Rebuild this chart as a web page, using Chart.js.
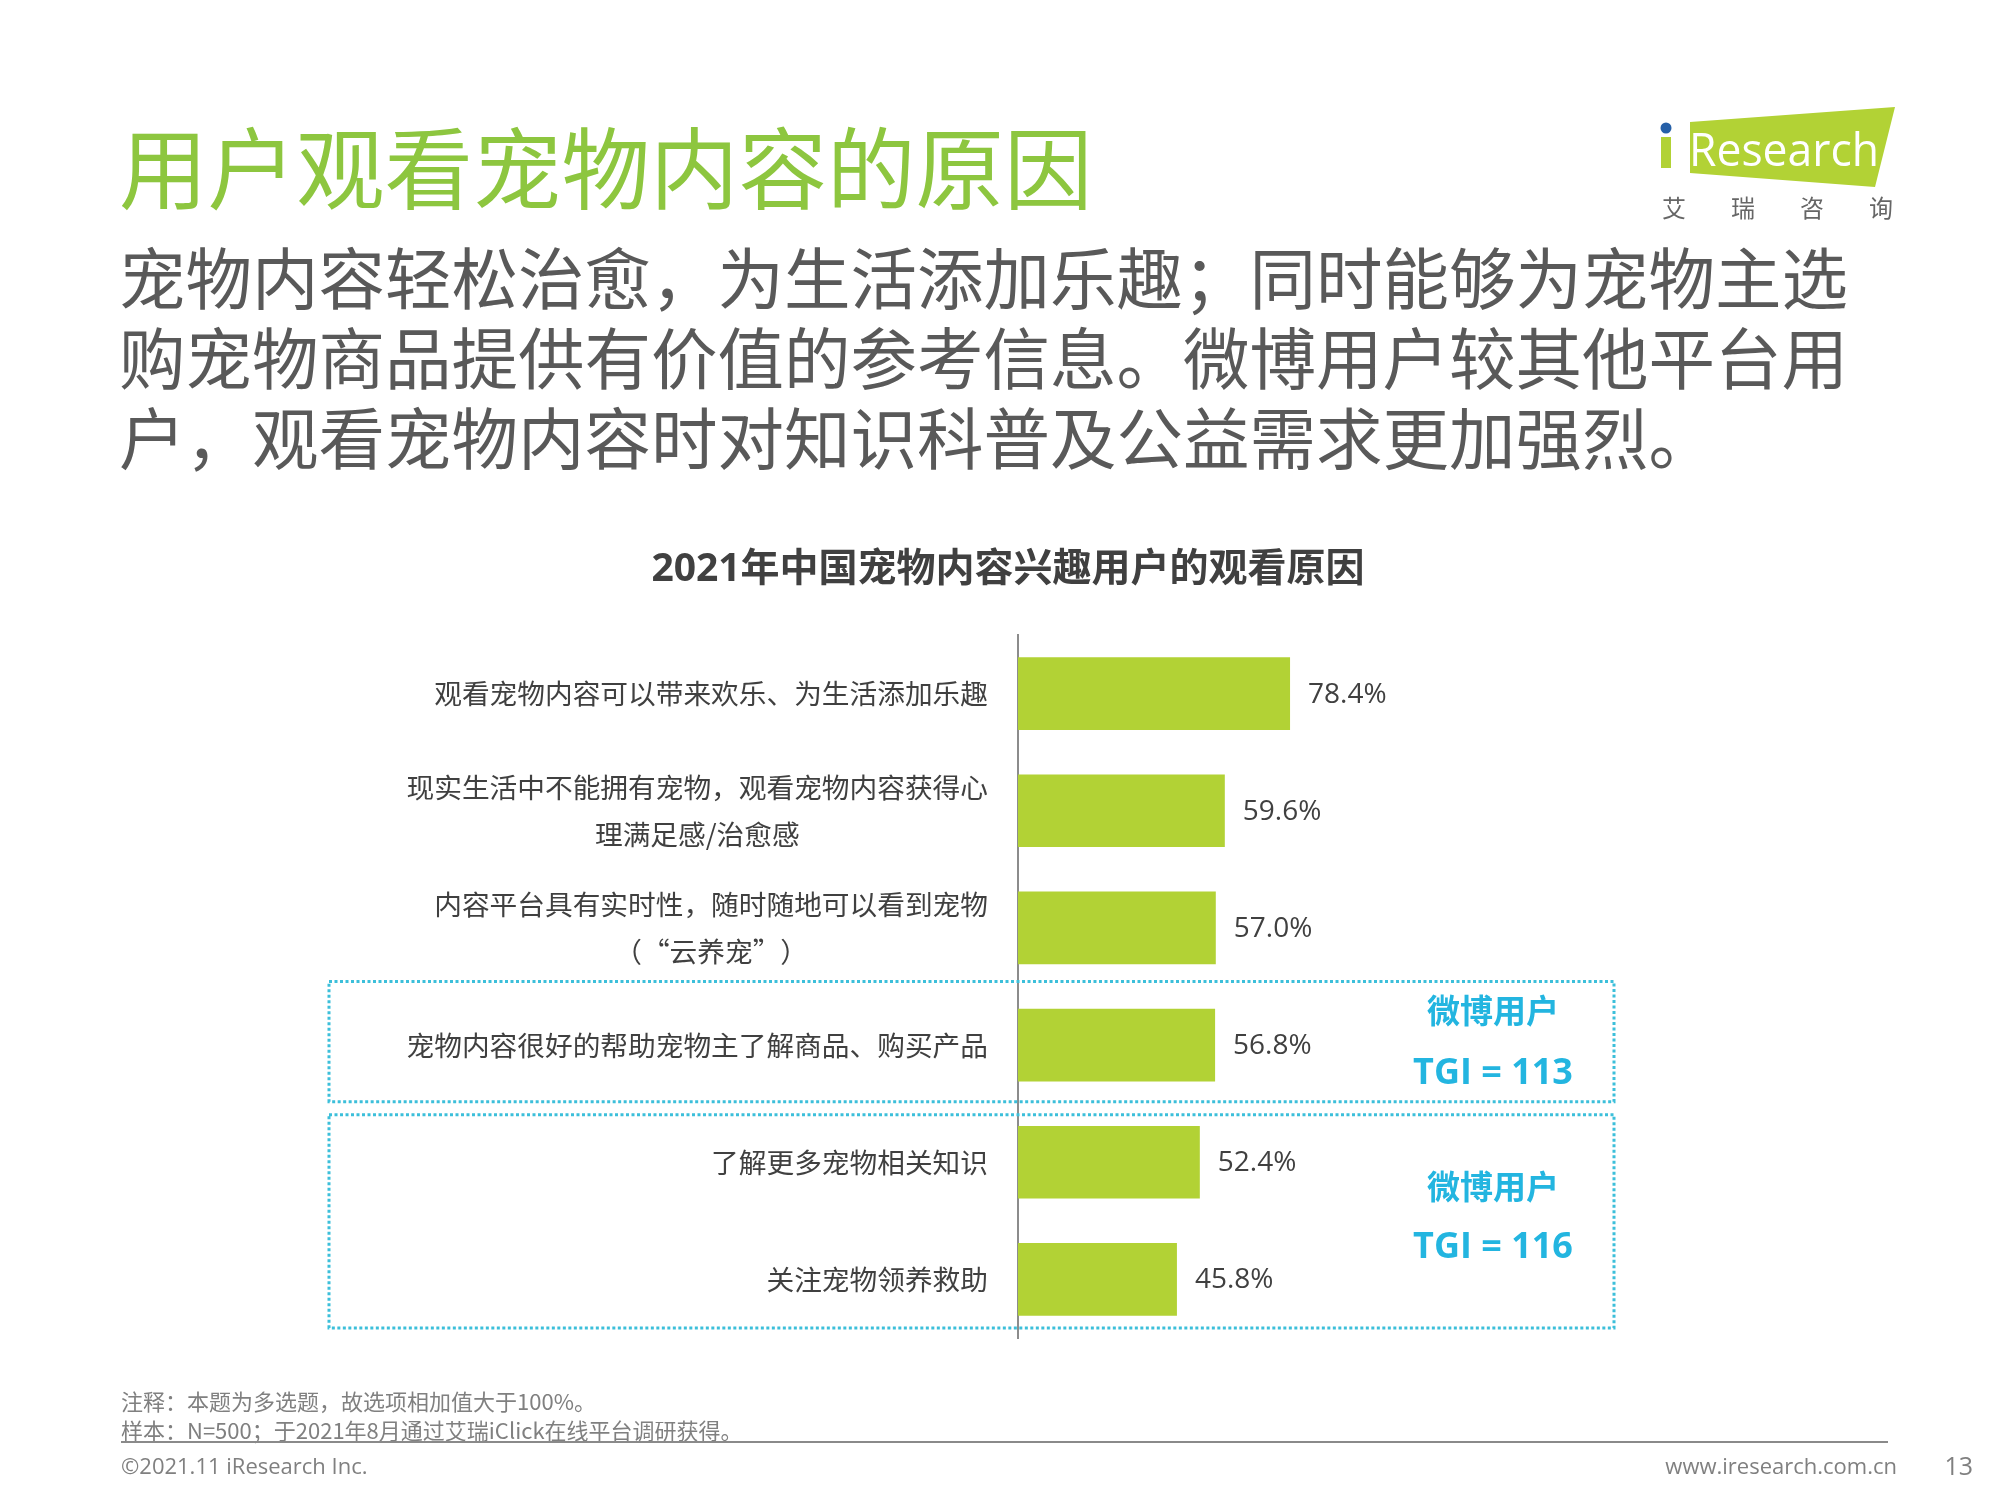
<!DOCTYPE html>
<html lang="zh-CN">
<head>
<meta charset="UTF-8">
<title>用户观看宠物内容的原因</title>
<style>
  body { margin: 0; width: 2000px; height: 1500px; overflow: hidden; background: #fff; font-family: 'Open Sans', 'Noto Sans CJK SC', sans-serif; }
  .abs { position: absolute; white-space: nowrap; }
  #wrap { position: absolute; left: 0; top: 0; width: 2000px; height: 1500px; }
  .title { left: 119px; top: 113px; font-size: 88.5px; line-height: 100px; color: #8DC63F; font-family: 'Noto Sans CJK SC', sans-serif; }
  .sub { left: 119px; top: 235px; font-size: 66.5px; line-height: 80px; color: #595959; font-family: 'Noto Sans CJK SC', sans-serif; }
  .ctitle { left: 508px; top: 541px; width: 1000px; text-align: center; font-size: 39px; line-height: 50px; font-weight: bold; color: #404040; }
  .note { left: 121px; top: 1386px; font-size: 22px; line-height: 29px; color: #808080; font-family: 'Noto Sans CJK SC', sans-serif; }
  .rule { position: absolute; left: 121px; top: 1441px; width: 1767px; height: 2px; background: #8a8a8a; }
  .foot { top: 1450px; font-size: 22px; line-height: 30px; color: #808080; }
</style>
</head>
<body>
  <div id="wrap"><canvas id="chart"></canvas></div>

  <div class="abs title">用户观看宠物内容的原因</div>
  <div class="abs sub">宠物内容轻松治愈，为生活添加乐趣；同时能够为宠物主选<br>购宠物商品提供有价值的参考信息。微博用户较其他平台用<br>户，观看宠物内容时对知识科普及公益需求更加强烈。</div>

  <!-- logo -->
  <svg class="abs" style="left:0;top:0" width="2000" height="240">
    <polygon points="1690,122 1895,107 1875,187 1690,173" fill="#B2D235"/>
    <rect x="1661" y="137" width="10" height="31" fill="#B2D235"/>
    <circle cx="1666" cy="128" r="5.5" fill="#2660A8"/>
    <text x="1689" y="166" font-family="Open Sans" font-size="46" fill="#fff" textLength="190" lengthAdjust="spacingAndGlyphs">Research</text>
    <g font-family="Noto Sans CJK SC" font-size="24" fill="#666">
      <text x="1662" y="217">艾</text><text x="1731" y="217">瑞</text><text x="1800" y="217">咨</text><text x="1869" y="217">询</text>
    </g>
  </svg>

  <div class="abs ctitle">2021年中国宠物内容兴趣用户的观看原因</div>

  <div class="abs note">注释：本题为多选题，故选项相加值大于100%。<br>样本：N=500；于2021年8月通过艾瑞iClick在线平台调研获得。</div>
  <div class="rule"></div>
  <div class="abs foot" style="left:121px">©2021.11 iResearch Inc.</div>
  <div class="abs foot" style="right:103px">www.iresearch.com.cn</div>
  <div class="abs foot" style="right:27px;font-size:25px">13</div>

  <script src="https://cdn.jsdelivr.net/npm/chart.js"></script>
  <script>
    // 数据
    const categories = [
      '观看宠物内容可以带来欢乐、为生活添加乐趣',
      ['现实生活中不能拥有宠物，观看宠物内容获得心', '理满足感/治愈感'],
      ['内容平台具有实时性，随时随地可以看到宠物', '（“云养宠”）'],
      '宠物内容很好的帮助宠物主了解商品、购买产品',
      '了解更多宠物相关知识',
      '关注宠物领养救助'
    ];
    const values = [78.4, 59.6, 57.0, 56.8, 52.4, 45.8];
    const valueLabels = ['78.4%', '59.6%', '57.0%', '56.8%', '52.4%', '45.8%'];
    // 微博用户 TGI 分组（起止类别序号）
    const groupFrom = [3, 4];
    const groupTo = [3, 5];
    const groupName = ['微博用户', '微博用户'];
    const groupTgi = ['TGI = 113', 'TGI = 116'];

    const LATIN = "'Open Sans', 'Noto Sans CJK SC', sans-serif";
    const CJK = "'Noto Sans CJK SC', sans-serif";

    // 类别标签（多行时块内居中）、数值标签、虚线框
    const extras = {
      id: 'extras',
      afterDatasetsDraw(chart) {
        const ctx = chart.ctx;
        const meta = chart.getDatasetMeta(0);
        const y = chart.scales.y;
        ctx.save();
        ctx.textBaseline = 'middle';

        ctx.font = '27.7px ' + CJK;
        ctx.fillStyle = '#404040';
        ctx.textAlign = 'center';
        const right = chart.chartArea.left - 30;
        categories.forEach((lab, i) => {
          const lines = Array.isArray(lab) ? lab : [lab];
          const w = Math.max(...lines.map(t => ctx.measureText(t).width));
          const cy = y.getPixelForValue(i);
          lines.forEach((t, k) => {
            ctx.fillText(t, right - w / 2, cy + (k - (lines.length - 1) / 2) * 47);
          });
        });

        ctx.font = '28px ' + LATIN;
        ctx.textAlign = 'left';
        meta.data.forEach((bar, i) => {
          ctx.fillText(valueLabels[i], bar.x + 18, bar.y + 1);
        });

        const band = (y.getPixelForValue(1) - y.getPixelForValue(0));
        const topAdj = [-5, 11], botAdj = [-2, -10], txtAdj = [[-28, 32], [-32, 26]];
        groupFrom.forEach((f, g) => {
          const top = y.getPixelForValue(f) - band / 2 + topAdj[g];
          const bot = y.getPixelForValue(groupTo[g]) + band / 2 + botAdj[g];
          ctx.setLineDash([3, 2.5]);
          ctx.lineWidth = 3;
          ctx.strokeStyle = '#3CBFDA';
          ctx.strokeRect(329, top, 1614 - 329, bot - top);
          ctx.setLineDash([]);
          const mid = (top + bot) / 2;
          ctx.fillStyle = '#23B5E0';
          ctx.textAlign = 'center';
          ctx.font = 'bold 33px ' + LATIN;
          ctx.fillText(groupName[g], 1493, mid + txtAdj[g][0]);
          ctx.font = 'bold 36px ' + LATIN;
          ctx.fillText(groupTgi[g], 1493, mid + txtAdj[g][1]);
        });
        ctx.restore();
      }
    };

    new Chart(document.getElementById('chart'), {
      type: 'bar',
      data: {
        labels: categories,
        datasets: [{ data: values, backgroundColor: '#B2D235', barPercentage: 0.62, categoryPercentage: 1 }]
      },
      options: {
        indexAxis: 'y',
        responsive: true,
        maintainAspectRatio: false,
        animation: false,
        layout: { padding: { left: 0, right: 635, top: 635, bottom: 162 } },
        scales: {
          x: { min: 0, max: 100, display: false },
          y: {
            grid: { display: false, drawTicks: false },
            border: { display: true, color: '#8c8c8c', width: 2 },
            ticks: { display: false },
            afterFit(scale) { scale.width = 1018; }
          }
        },
        plugins: { legend: { display: false }, tooltip: { enabled: false } }
      },
      plugins: [extras]
    });
  </script>
</body>
</html>
